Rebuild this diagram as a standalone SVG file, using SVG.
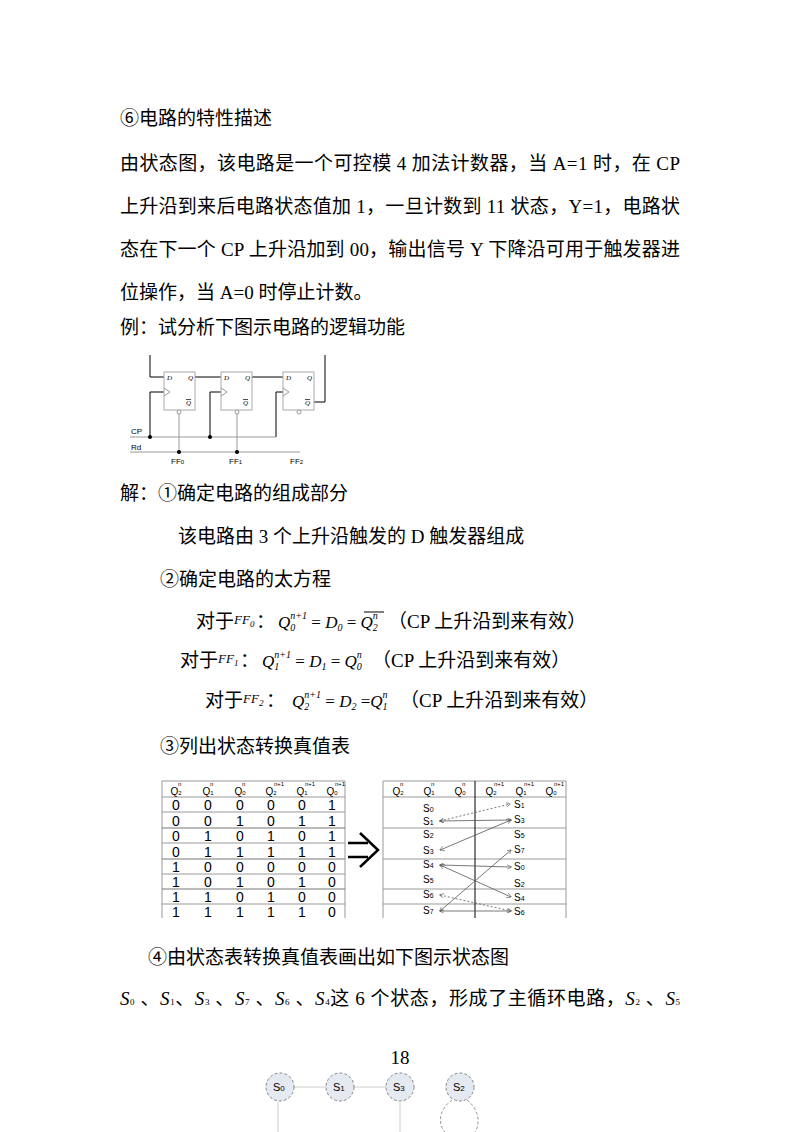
<svg xmlns="http://www.w3.org/2000/svg" width="800" height="1132" viewBox="0 0 800 1132">
<style>
.t{font-family:"Liberation Serif","Noto Sans CJK SC",serif;font-size:19px;fill:#000}
.s{font-family:"Liberation Sans",sans-serif;fill:#000}
.m{font-family:"Liberation Serif",serif;font-style:italic;fill:#000}
.w{stroke:#000;stroke-width:1;fill:none}
.g{stroke:#999;stroke-width:1;fill:none}
.box{fill:#fff;stroke:#aaa;stroke-width:1}
.tl{stroke:#000;stroke-width:1}
.ar{stroke:#555;stroke-width:0.8;fill:none;marker-start:url(#a);marker-end:url(#a)}
.ard{stroke:#555;stroke-width:0.8;fill:none;stroke-dasharray:2,2;marker-start:url(#a);marker-end:url(#a)}
.c{fill:#e4e9f2;stroke:#888;stroke-dasharray:3,2}
</style>
<defs><marker id="a" viewBox="0 0 8 8" refX="7" refY="4" markerWidth="6" markerHeight="6" orient="auto-start-reverse"><path d="M0,0 L8,4 L0,8" fill="none" stroke="#555"/></marker></defs>
<rect width="800" height="1132" fill="#fff"/>
<text class="t" x="120" y="125">⑥电路的特性描述</text>
<text class="t" x="120" y="170" textLength="560" lengthAdjust="spacing">由状态图，该电路是一个可控模 4 加法计数器，当 A=1 时，在 CP</text>
<text class="t" x="120" y="213" textLength="560" lengthAdjust="spacing">上升沿到来后电路状态值加 1，一旦计数到 11 状态，Y=1，电路状</text>
<text class="t" x="120" y="256" textLength="560" lengthAdjust="spacing">态在下一个 CP 上升沿加到 00，输出信号 Y 下降沿可用于触发器进</text>
<text class="t" x="120" y="299">位操作，当 A=0 时停止计数。</text>
<text class="t" x="120" y="334">例：试分析下图示电路的逻辑功能</text>
<g id="circuit">
<path class="w" d="M150,355 V377 H164 M195,377 H221 M252,377 H283 M314,402 H325 V355"/>
<path class="w" d="M150,437 V392 H164 M210,437 V392 H221 M276,437 V392 H283"/>
<path class="g" d="M130,437 H276 M130,452 H300 M179,413 V452 M237,413 V452"/>
<g id="ff0"><rect class="box" x="164" y="372" width="31" height="38"/><path class="g" d="M164,388 L170,392 L164,396"/><circle cx="179" cy="412" r="2" fill="#fff" stroke="#999"/></g>
<g id="ff1"><rect class="box" x="221" y="372" width="31" height="38"/><path class="g" d="M221,388 L227,392 L221,396"/><circle cx="237" cy="412" r="2" fill="#fff" stroke="#999"/></g>
<g id="ff2"><rect class="box" x="283" y="372" width="31" height="38"/><path class="g" d="M283,388 L289,392 L283,396"/><circle cx="299" cy="412" r="2" fill="#fff" stroke="#999"/></g>
<g class="m" font-size="7" font-style="normal">
<text x="167" y="380">D</text><text x="188" y="380" font-style="italic">Q</text><text x="186" y="405" font-style="italic" text-decoration="overline">Q</text>
<text x="224" y="380">D</text><text x="245" y="380" font-style="italic">Q</text><text x="243" y="405" font-style="italic" text-decoration="overline">Q</text>
<text x="286" y="380">D</text><text x="307" y="380" font-style="italic">Q</text><text x="305" y="405" font-style="italic" text-decoration="overline">Q</text>
</g>
<circle cx="150" cy="437" r="2"/><circle cx="210" cy="437" r="2"/><circle cx="179" cy="452" r="2"/><circle cx="237" cy="452" r="2"/>
<g class="s" font-size="8"><text x="131" y="434">CP</text><text x="131" y="450">Rd</text>
<text x="171" y="464">FF<tspan font-size="6">0</tspan></text><text x="229" y="464">FF<tspan font-size="6">1</tspan></text><text x="290" y="464">FF<tspan font-size="6">2</tspan></text></g>
</g>
<text class="t" x="120" y="500">解：①确定电路的组成部分</text>
<text class="t" x="178" y="543">该电路由 3 个上升沿触发的 D 触发器组成</text>
<text class="t" x="160" y="586">②确定电路的太方程</text>
<g id="eqs">
<text class="t" x="196" y="628">对于</text><text class="m" x="234" y="624" font-size="13">FF<tspan font-size="9" dy="3">0</tspan></text><text class="t" x="256" y="628">：</text>
<text class="m" x="278" y="628" font-size="17">Q<tspan font-size="10" dy="3">0</tspan><tspan font-size="10" dx="-5" dy="-12">n+1</tspan><tspan dy="9" font-style="normal"> = </tspan>D<tspan font-size="10" dy="3">0</tspan><tspan dy="-3" font-style="normal"> = </tspan>Q<tspan font-size="10" dy="3">2</tspan><tspan font-size="10" dx="-5" dy="-12">n</tspan></text>
<line class="tl" x1="364" y1="612" x2="384" y2="612"/>
<text class="t" x="388" y="628">（CP 上升沿到来有效）</text>
<text class="t" x="180" y="667">对于</text><text class="m" x="218" y="663" font-size="13">FF<tspan font-size="9" dy="3">1</tspan></text><text class="t" x="240" y="667">：</text>
<text class="m" x="262" y="667" font-size="17">Q<tspan font-size="10" dy="3">1</tspan><tspan font-size="10" dx="-5" dy="-12">n+1</tspan><tspan dy="9" font-style="normal"> = </tspan>D<tspan font-size="10" dy="3">1</tspan><tspan dy="-3" font-style="normal"> = </tspan>Q<tspan font-size="10" dy="3">0</tspan><tspan font-size="10" dx="-5" dy="-12">n</tspan></text>
<text class="t" x="372" y="667">（CP 上升沿到来有效）</text>
<text class="t" x="205" y="707">对于</text><text class="m" x="243" y="703" font-size="13">FF<tspan font-size="9" dy="3">2</tspan></text><text class="t" x="266" y="707">：</text>
<text class="m" x="292" y="707" font-size="17">Q<tspan font-size="10" dy="3">2</tspan><tspan font-size="10" dx="-5" dy="-12">n+1</tspan><tspan dy="9" font-style="normal"> = </tspan>D<tspan font-size="10" dy="3">2</tspan><tspan dy="-3" font-style="normal"> =</tspan>Q<tspan font-size="10" dy="3">1</tspan><tspan font-size="10" dx="-5" dy="-12">n</tspan></text>
<text class="t" x="400" y="707">（CP 上升沿到来有效）</text>
</g>
<text class="t" x="160" y="753">③列出状态转换真值表</text>
<g id="table1" class="s">
<path class="g" d="M162,781 H345 M162,797 H345 M162,812 H345 M162,843 H345 M162,874 H345 M162,904 H345 M162,918 V781 M345,918 V781"/>
<path stroke="#777" d="M162,828 H345 M162,859 H345 M162,889 H345"/>
<g font-size="10" text-anchor="middle"><text x="176" y="795">Q<tspan font-size="6">2</tspan></text><text x="208" y="795">Q<tspan font-size="6">1</tspan></text><text x="240" y="795">Q<tspan font-size="6">0</tspan></text><text x="271" y="795">Q<tspan font-size="6">2</tspan></text><text x="302" y="795">Q<tspan font-size="6">1</tspan></text><text x="332" y="795">Q<tspan font-size="6">0</tspan></text></g>
<g font-size="6"><text x="178" y="786">n</text><text x="210" y="786">n</text><text x="242" y="786">n</text><text x="274" y="786">n+1</text><text x="305" y="786">n+1</text><text x="335" y="786">n+1</text></g>
<g font-size="14" text-anchor="middle">
<text y="810"><tspan x="176">0</tspan><tspan x="208">0</tspan><tspan x="240">0</tspan><tspan x="271">0</tspan><tspan x="302">0</tspan><tspan x="332">1</tspan></text>
<text y="826"><tspan x="176">0</tspan><tspan x="208">0</tspan><tspan x="240">1</tspan><tspan x="271">0</tspan><tspan x="302">1</tspan><tspan x="332">1</tspan></text>
<text y="841"><tspan x="176">0</tspan><tspan x="208">1</tspan><tspan x="240">0</tspan><tspan x="271">1</tspan><tspan x="302">0</tspan><tspan x="332">1</tspan></text>
<text y="857"><tspan x="176">0</tspan><tspan x="208">1</tspan><tspan x="240">1</tspan><tspan x="271">1</tspan><tspan x="302">1</tspan><tspan x="332">1</tspan></text>
<text y="872"><tspan x="176">1</tspan><tspan x="208">0</tspan><tspan x="240">0</tspan><tspan x="271">0</tspan><tspan x="302">0</tspan><tspan x="332">0</tspan></text>
<text y="887"><tspan x="176">1</tspan><tspan x="208">0</tspan><tspan x="240">1</tspan><tspan x="271">0</tspan><tspan x="302">1</tspan><tspan x="332">0</tspan></text>
<text y="902"><tspan x="176">1</tspan><tspan x="208">1</tspan><tspan x="240">0</tspan><tspan x="271">1</tspan><tspan x="302">0</tspan><tspan x="332">0</tspan></text>
<text y="917"><tspan x="176">1</tspan><tspan x="208">1</tspan><tspan x="240">1</tspan><tspan x="271">1</tspan><tspan x="302">1</tspan><tspan x="332">0</tspan></text>
</g>
</g>
<g id="implies"><path d="M348,843 H368 M348,857 H368 M360,833 L378,850 L360,867" fill="none" stroke="#000" stroke-width="2.5"/></g>
<g id="table2" class="s">
<path class="g" d="M383,781 H566 M383,797 H566 M383,828 H566 M383,859 H566 M383,889 H566 M383,904 H566 M383,918 V781 M566,918 V781"/>
<line class="tl" x1="475" y1="781" x2="475" y2="918"/>
<g font-size="10" text-anchor="middle"><text x="398" y="795">Q<tspan font-size="6">2</tspan></text><text x="429" y="795">Q<tspan font-size="6">1</tspan></text><text x="460" y="795">Q<tspan font-size="6">0</tspan></text><text x="491" y="795">Q<tspan font-size="6">2</tspan></text><text x="521" y="795">Q<tspan font-size="6">1</tspan></text><text x="551" y="795">Q<tspan font-size="6">0</tspan></text></g>
<g font-size="6"><text x="400" y="786">n</text><text x="431" y="786">n</text><text x="462" y="786">n</text><text x="494" y="786">n+1</text><text x="524" y="786">n+1</text><text x="554" y="786">n+1</text></g>
<g font-size="10">
<text x="423" y="812">S<tspan font-size="7">0</tspan></text><text x="423" y="825">S<tspan font-size="7">1</tspan></text><text x="423" y="838">S<tspan font-size="7">2</tspan></text><text x="423" y="854">S<tspan font-size="7">3</tspan></text><text x="423" y="868">S<tspan font-size="7">4</tspan></text><text x="423" y="883">S<tspan font-size="7">5</tspan></text><text x="423" y="898">S<tspan font-size="7">6</tspan></text><text x="423" y="914">S<tspan font-size="7">7</tspan></text>
<text x="514" y="808">S<tspan font-size="7">1</tspan></text><text x="514" y="823">S<tspan font-size="7">3</tspan></text><text x="514" y="838">S<tspan font-size="7">5</tspan></text><text x="514" y="853">S<tspan font-size="7">7</tspan></text><text x="514" y="870">S<tspan font-size="7">0</tspan></text><text x="514" y="887">S<tspan font-size="7">2</tspan></text><text x="514" y="901">S<tspan font-size="7">4</tspan></text><text x="514" y="915">S<tspan font-size="7">6</tspan></text>
</g>
</g>
<g id="connectors">
<line class="ard" x1="440" y1="821" x2="510" y2="804"/>
<line class="ar" x1="440" y1="821" x2="511" y2="820"/>
<line class="ar" x1="440" y1="850" x2="511" y2="820"/>
<line class="ar" x1="440" y1="865" x2="511" y2="867"/>
<line class="ar" x1="440" y1="865" x2="511" y2="897"/>
<line class="ard" x1="440" y1="895" x2="511" y2="911"/>
<line class="ar" x1="440" y1="911" x2="511" y2="850"/>
<line class="ar" x1="440" y1="911" x2="511" y2="911"/>
</g>
<text class="t" x="148" y="964">④由状态表转换真值表画出如下图示状态图</text>
<text class="t" x="120" y="1005" textLength="560" lengthAdjust="spacing"><tspan font-style="italic">S</tspan><tspan font-size="9">0</tspan> 、<tspan font-style="italic">S</tspan><tspan font-size="9">1</tspan>、<tspan font-style="italic">S</tspan><tspan font-size="9">3</tspan> 、<tspan font-style="italic">S</tspan><tspan font-size="9">7</tspan> 、<tspan font-style="italic">S</tspan><tspan font-size="9">6</tspan> 、<tspan font-style="italic">S</tspan><tspan font-size="9">4</tspan>这 6 个状态，形成了主循环电路，<tspan font-style="italic">S</tspan><tspan font-size="9">2</tspan> 、<tspan font-style="italic">S</tspan><tspan font-size="9">5</tspan></text>
<text class="t" x="400" y="1064" font-size="13" text-anchor="middle">18</text>
<g id="statediagram">
<path stroke="#ccc" fill="none" d="M294,1087 H326 M354,1087 H386 M278,1132 V1102 M400,1132 V1102"/>
<path class="g" stroke-dasharray="3,2" d="M452,1100 C438,1110 438,1125 445,1132 M467,1100 C480,1110 480,1125 475,1132"/>
<g id="s0"><circle class="c" cx="280" cy="1087" r="14"/><text class="s" x="273" y="1091" font-size="11">S<tspan font-size="8">0</tspan></text></g>
<g id="s1"><circle class="c" cx="340" cy="1087" r="14"/><text class="s" x="333" y="1091" font-size="11">S<tspan font-size="8">1</tspan></text></g>
<g id="s3"><circle class="c" cx="400" cy="1087" r="14"/><text class="s" x="393" y="1091" font-size="11">S<tspan font-size="8">3</tspan></text></g>
<g id="s2"><circle class="c" cx="460" cy="1087" r="14"/><text class="s" x="453" y="1091" font-size="11">S<tspan font-size="8">2</tspan></text></g>
</g>
</svg>
